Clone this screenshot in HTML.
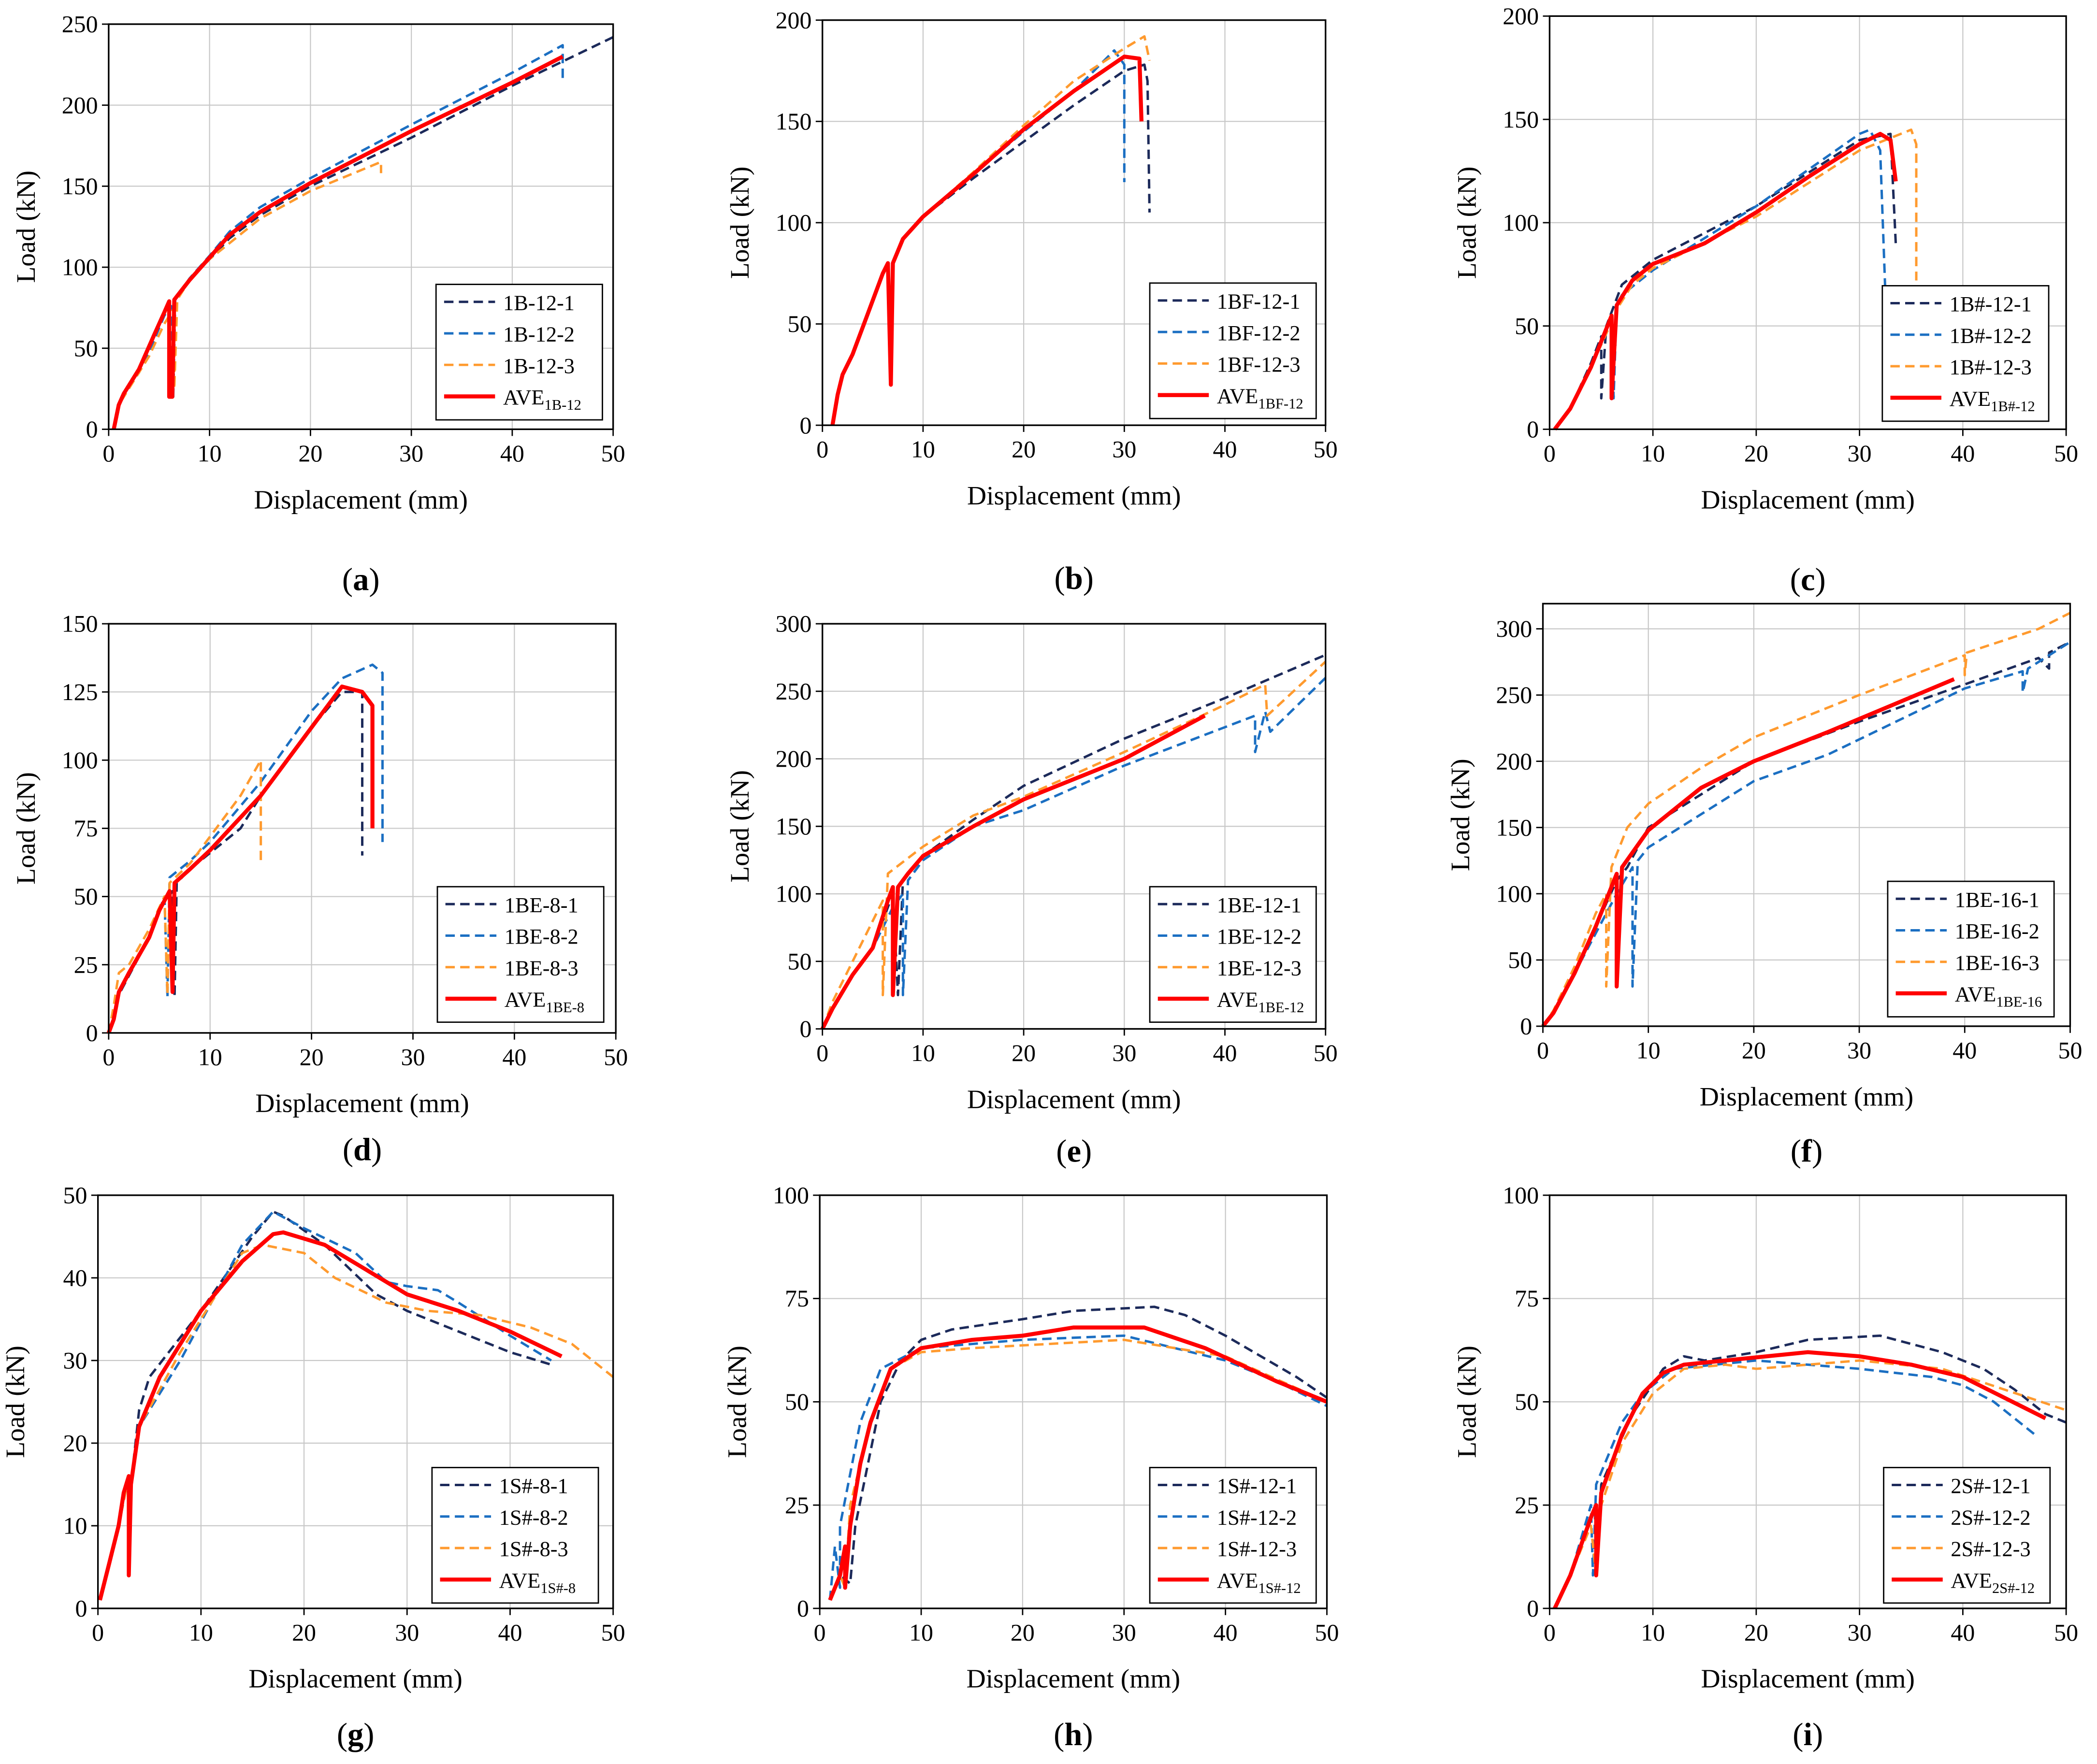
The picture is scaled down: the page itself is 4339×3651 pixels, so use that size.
<!DOCTYPE html>
<html><head><meta charset="utf-8">
<style>
html,body{margin:0;padding:0;background:#fff;}
svg{display:block;}
text{font-family:"Liberation Serif",serif;fill:#000;}
</style></head>
<body>
<svg id="fig" width="4339" height="3651" viewBox="0 0 1563 1315" preserveAspectRatio="none" xmlns="http://www.w3.org/2000/svg"></svg>
<script>
// ---- data (displacement mm, load kN) ----
const a_s1=[[0.5,0],[1,15],[1.5,22],[3,35],[4.5,55],[5.5,70],[6,78],[6,20],[6.4,20],[6.6,80],[8,92],[10,105],[12,118],[15,132],[20,150],[30,180],[40,212],[50,242]];
const a_s2=[[0.5,0],[1,16],[2,25],[4,48],[5.5,70],[6.2,76],[6.2,22],[6.6,80],[8,93],[10,107],[12,122],[15,137],[20,155],[30,188],[40,220],[45,237],[45,215]];
const a_s3=[[0.5,0],[1,15],[2,25],[4,45],[5.5,65],[6.5,75],[6.5,25],[6.8,80],[8,92],[10,105],[15,130],[20,147],[27,165],[27,158]];
const a_ave=[[0.5,0],[1,15],[1.5,22],[3,37],[4.5,58],[5.5,72],[6,79],[6,20],[6.3,20],[6.5,80],[8,92],[10,106],[12,120],[15,134],[20,152],[30,184],[40,214],[45,230]];
const b_s1=[[1,0],[1.5,15],[2,25],[3,35],[4.5,55],[6,75],[6.5,80],[6.8,20],[7,80],[8,92],[10,103],[15,122],[20,140],[25,158],[30,175],[32,178],[32.3,170],[32.5,105]];
const b_s2=[[1,0],[1.5,15],[2,25],[3,35],[4.5,55],[6,75],[6.5,80],[6.8,20],[7,80],[8,92],[10,103],[15,124],[20,145],[25,165],[29,185],[30,178],[30,120]];
const b_s3=[[1,0],[1.5,15],[2,25],[3,35],[4.5,55],[6,75],[6.5,80],[6.8,20],[7,80],[8,92],[10,103],[15,125],[20,148],[25,170],[30,186],[32,192],[32.5,180]];
const b_ave=[[1,0],[1.5,15],[2,25],[3,35],[4.5,55],[6,75],[6.5,80],[6.8,20],[7,80],[8,92],[10,103],[15,124],[20,146],[25,165],[30,182],[31.5,181],[31.7,150]];
const c_s1=[[0.5,0],[2,10],[4,32],[5,45],[5,15],[5.5,50],[7,70],[10,82],[20,108],[30,140],[33,143],[33.5,90]];
const c_s2=[[0.5,0],[2,10],[4,30],[6,52],[6.2,15],[6.5,60],[7,65],[10,77],[20,108],[30,143],[31,145],[32,135],[32.5,65]];
const c_s3=[[0.5,0],[2,10],[4,30],[6,52],[6,18],[6.5,58],[8,70],[10,78],[20,103],[30,135],[35,145],[35.5,138],[35.5,72]];
const c_ave=[[0.5,0],[2,10],[4,30],[6,55],[6,15],[6.5,60],[8,72],[10,80],[15,90],[20,105],[25,122],[30,138],[32,143],[33,140],[33.5,120]];
const d_s1=[[0,0],[0.5,5],[1,14],[2,21],[4,35],[5,45],[6.3,52],[6.5,13],[6.7,55],[8,60],[10,66],[13,75],[15,87],[20,112],[23,125],[25,125],[25,65]];
const d_s2=[[0,0],[0.5,5],[1,15],[2,22],[4,35],[5.5,50],[5.8,13],[6,57],[8,63],[10,70],[15,92],[20,118],[23,130],[26,135],[27,132],[27,70]];
const d_s3=[[0,0],[0.5,10],[1,22],[2,25],[4,38],[5.5,50],[5.8,14],[6,55],[8,62],[10,72],[13,87],[15,100],[15,63]];
const d_ave=[[0,0],[0.5,5],[1,15],[2,22],[4,35],[5,45],[6,52],[6.3,15],[6.5,55],[8,60],[10,67],[15,87],[20,112],[23,127],[25,125],[26,120],[26,75]];
const e_s1=[[0,0],[1,15],[3,40],[5,60],[7,100],[7.5,25],[8,110],[10,128],[15,155],[20,180],[30,215],[40,245],[50,277]];
const e_s2=[[0,0],[1,15],[3,40],[5,60],[7,90],[8,100],[8,25],[8.5,110],[10,125],[15,150],[20,162],[30,195],[43,232],[43,205],[44,235],[44.5,220],[50,260]];
const e_s3=[[0,0],[1,20],[3,50],[5,80],[6,95],[6,25],[6.5,115],[10,135],[15,158],[20,172],[30,205],[40,240],[44,255],[44.2,232],[50,272]];
const e_ave=[[0,0],[1,15],[3,40],[5,60],[6.5,95],[7,105],[7,25],[7.5,105],[8.5,115],[10,128],[15,150],[20,170],[30,200],[38,232]];
const f_s1=[[0,0],[1,10],[3,40],[5,75],[7,110],[8,120],[10,150],[20,200],[30,230],[40,258],[47,278],[48,270],[48,282],[50,290]];
const f_s2=[[0,0],[1,10],[3,40],[5,70],[7,100],[8.5,120],[8.5,30],[9,125],[10,135],[20,185],[27,205],[40,255],[45.5,268],[45.5,252],[46,270],[50,290]];
const f_s3=[[0,0],[1,12],[3,45],[5,85],[6,100],[6,30],[6.5,120],[8,150],[10,168],[15,195],[20,218],[30,250],[40,280],[40,265],[40.2,282],[47,300],[50,312]];
const f_ave=[[0,0],[1,10],[3,40],[5,75],[7,115],[7,30],[7.5,120],[10,148],[15,180],[20,200],[27,222],[39,262]];
const g_s1=[[0.2,1],[1,5],[2,10],[3,16],[3,4],[3.2,15],[4,24],[5,28],[10,36],[15,45],[17,48],[18,47.5],[22,44],[27,38],[30,36],[35,33.5],[40,31],[44,29.5]];
const g_s2=[[0.2,1],[1,5],[2,10],[3,16],[3,4],[3.2,15],[4,22],[8,30],[14,44],[17,48],[20,46],[25,43],[28,39.5],[30,39],[33,38.5],[35,37],[40,33],[44,30]];
const g_s3=[[0.2,1],[1,5],[2,10],[3,16],[3,4],[3.2,15],[4,22],[8,31],[14,43],[16,44],[20,43],[23,40],[28,37],[32,36],[37,35.5],[42,34],[46,32],[50,28]];
const g_ave=[[0.2,1],[1,5],[2,10],[2.5,14],[3,16],[3,4],[3.2,15],[4,22],[6,28],[10,36],[14,42],[17,45.3],[18,45.5],[22,44],[26,41],[30,38],[35,36],[40,33.5],[45,30.5]];
const h_s1=[[1,2],[2,8],[3,6],[3.5,20],[6,50],[8,60],[10,65],[13,67.5],[20,70],[25,72],[33,73],[36,71],[40,66],[47,56],[50,51]];
const h_s2=[[1,2],[1.5,15],[2,5],[2,20],[4,45],[6,58],[10,63],[20,65],[30,66],[40,60],[45,55],[50,49]];
const h_s3=[[1,2],[2,8],[2.5,5],[3,25],[5,45],[7,58],[10,62],[15,63],[30,65],[40,61],[50,50]];
const h_ave=[[1,2],[2,8],[2.5,15],[2.5,5],[3,20],[4,35],[5,45],[7,58],[10,63],[15,65],[20,66],[25,68],[30,68],[32,68],[38,63],[45,55],[50,50]];
const i_s1=[[0.5,0],[2,8],[4,22],[4.5,25],[4.5,8],[5,30],[8,47],[11,58],[13,61],[15,60],[20,62],[25,65],[32,66],[38,62],[42,58],[45,53],[48,47],[50,45]];
const i_s2=[[0.5,0],[2,8],[4,25],[4.2,8],[4.5,30],[7,45],[9,52],[12,58],[20,60],[30,58],[37,56],[40,54],[43,50],[45,46],[47,42]];
const i_s3=[[0.5,0],[2,8],[4,20],[4.5,8],[5,25],[7,40],[10,52],[13,58],[17,59],[20,58],[30,60],[38,58],[44,53],[50,48]];
const i_ave=[[0.5,0],[2,8],[3,15],[4,22],[4.5,25],[4.5,8],[5,28],[7,42],[9,52],[11,57],[13,59],[17,60],[25,62],[30,61],[35,59],[40,56],[44,51],[48,46]];
const xTicks=[0,10,20,30,40,50];

const panels=[
 {id:'a',L:81,R:457,B:320,T:18,ymax:250,step:50,lx:325,ly:212,cy:440,names:['1B-12-1','1B-12-2','1B-12-3'],sub:'1B-12',series:[a_s1,a_s2,a_s3,a_ave]},
 {id:'b',L:613,R:988,B:317,T:15,ymax:200,step:50,lx:857,ly:211,cy:439,names:['1BF-12-1','1BF-12-2','1BF-12-3'],sub:'1BF-12',series:[b_s1,b_s2,b_s3,b_ave]},
 {id:'c',L:1155,R:1540,B:320,T:12,ymax:200,step:50,lx:1403,ly:213,cy:440,names:['1B#-12-1','1B#-12-2','1B#-12-3'],sub:'1B#-12',series:[c_s1,c_s2,c_s3,c_ave]},
 {id:'d',L:81,R:459,B:770,T:465,ymax:150,step:25,lx:326,ly:661,cy:865,names:['1BE-8-1','1BE-8-2','1BE-8-3'],sub:'1BE-8',series:[d_s1,d_s2,d_s3,d_ave]},
 {id:'e',L:613,R:988,B:767,T:465,ymax:300,step:50,lx:857,ly:661,cy:866,names:['1BE-12-1','1BE-12-2','1BE-12-3'],sub:'1BE-12',series:[e_s1,e_s2,e_s3,e_ave]},
 {id:'f',L:1150,R:1543,B:765,T:450,ymax:319,step:50,lx:1407,ly:657,cy:866,names:['1BE-16-1','1BE-16-2','1BE-16-3'],sub:'1BE-16',series:[f_s1,f_s2,f_s3,f_ave]},
 {id:'g',L:73,R:457,B:1199,T:891,ymax:50,step:10,lx:322,ly:1094,cy:1301,names:['1S#-8-1','1S#-8-2','1S#-8-3'],sub:'1S#-8',series:[g_s1,g_s2,g_s3,g_ave]},
 {id:'h',L:611,R:989,B:1199,T:891,ymax:100,step:25,lx:857,ly:1094,cy:1301,names:['1S#-12-1','1S#-12-2','1S#-12-3'],sub:'1S#-12',series:[h_s1,h_s2,h_s3,h_ave]},
 {id:'i',L:1155,R:1540,B:1199,T:891,ymax:100,step:25,lx:1404,ly:1094,cy:1301,names:['2S#-12-1','2S#-12-2','2S#-12-3'],sub:'2S#-12',series:[i_s1,i_s2,i_s3,i_ave]}
];
const colors=['#1c2a5a','#1b6fc2','#ff9a2e','#ff0000'];
const NS='http://www.w3.org/2000/svg';
const svg=document.getElementById('fig');
function mk(tag,parent,attrs){const e=document.createElementNS(NS,tag);for(const k in attrs)e.setAttribute(k,attrs[k]);parent.appendChild(e);return e;}

panels.forEach(p=>{
 const g=mk('g',svg,{});
 
 
 const xs=v=>p.L+(p.R-p.L)*v/50;
 const ys=v=>p.B-(p.B-p.T)*v/p.ymax;
 xTicks.forEach(t=>{
  const X=xs(t);
  if(t>0&&t<50){const gl=mk('line',g,{x1:X,x2:X,y1:p.T,y2:p.B,stroke:'#c8c8c8','stroke-width':0.8});
   
   }
  mk('line',g,{x1:X,x2:X,y1:p.B,y2:p.B+5,stroke:'#000','stroke-width':1});
  const tx=mk('text',g,{x:X,y:p.B+24,'text-anchor':'middle','font-size':18});
  tx.textContent=t;
  
  
 });
 for(let t=0;t<=p.ymax+0.01;t+=p.step){
  const Y=ys(t);
  if(t>0&&Y>p.T+1){const gl=mk('line',g,{x1:p.L,x2:p.R,y1:Y,y2:Y,stroke:'#c8c8c8','stroke-width':0.8});
   
   }
  mk('line',g,{x1:p.L-5,x2:p.L,y1:Y,y2:Y,stroke:'#000','stroke-width':1});
  const ty=mk('text',g,{x:p.L-8,y:Y+6,'text-anchor':'end','font-size':18});
  ty.textContent=t;
  
  
 }
 p.series.forEach((s,i)=>{
  const d=s.map((pt,j)=>(j?'L':'M')+xs(pt[0]).toFixed(1)+','+ys(pt[1]).toFixed(1)).join(' ');
  const attrs={d:d,fill:'none',stroke:colors[i],'stroke-width':i==3?3:1.8,'stroke-linejoin':'round'};
  if(i<3)attrs['stroke-dasharray']='7,4';
  const pa=mk('path',g,attrs);
  
  
 });
 const fr=mk('rect',g,{x:p.L,y:p.T,width:p.R-p.L,height:p.B-p.T,fill:'none',stroke:'#000','stroke-width':1.2});
 
 
 const xl=mk('text',g,{x:(p.L+p.R)/2,y:p.B+59,'text-anchor':'middle','font-size':20});
 xl.textContent='Displacement (mm)';
 
 
 const yc=(p.T+p.B)/2, yx=p.L-55;
 const yl=mk('text',g,{x:yx,y:yc,'text-anchor':'middle','font-size':20,transform:'rotate(-90 '+yx+' '+yc+')'});
 yl.textContent='Load (kN)';
 
 
 const cap=mk('text',g,{x:(p.L+p.R)/2,y:p.cy,'text-anchor':'middle','font-size':24});
 cap.innerHTML='(<tspan font-weight="bold">'+p.id+'</tspan>)';
 
 
 const lg=mk('g',g,{});
 
 
 mk('rect',lg,{x:p.lx,y:p.ly,width:124,height:101,fill:'#fff',stroke:'#000','stroke-width':1});
 for(let i=0;i<4;i++){
  const yy=p.ly+13+i*23.5;
  const la={x1:p.lx+6,x2:p.lx+44,y1:yy,y2:yy,stroke:colors[i],'stroke-width':i==3?3:1.8};
  if(i<3)la['stroke-dasharray']='7,4';
  mk('line',lg,la);
  const lt=mk('text',lg,{x:p.lx+50,y:yy+6,'font-size':16});
  if(i<3)lt.textContent=p.names[i];
  else lt.innerHTML='AVE<tspan font-size="11" dy="4">'+p.sub+'</tspan>';
  
  
 }
});
</script>
</body></html>
